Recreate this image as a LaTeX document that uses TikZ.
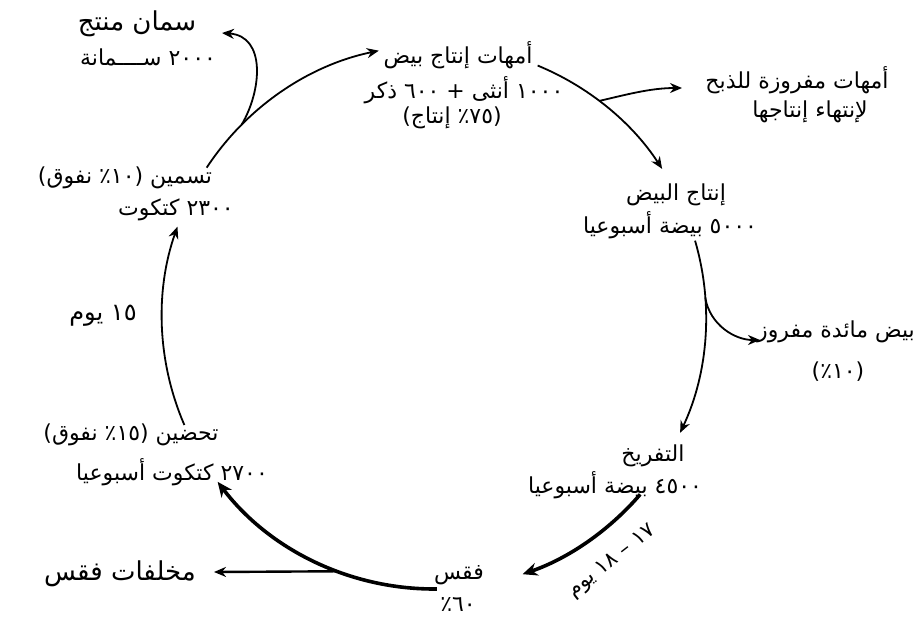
\documentclass[tikz,border=0pt]{standalone}
\usepackage{fontspec}
\newfontfamily\arabicfont[Script=Arabic]{DejaVu Sans}
\TeXXeTstate=1
\usetikzlibrary{arrows.meta}
\newcommand\artx[1]{\beginR #1\endR}
\begin{document}
\begin{tikzpicture}[x=1pt,y=-1pt,
  txt/.style={font=\arabicfont\fontsize{22}{26}\selectfont, inner sep=0pt, anchor=center},
  bigtxt/.style={txt, font=\arabicfont\fontsize{26}{30}\selectfont},
  flow/.style={line width=1.8pt, -{Stealth[length=12pt,width=10pt]}},
  boldflow/.style={line width=3.6pt, -{Stealth[length=15pt,width=13pt]}}]
\useasboundingbox[fill=white] (0,0) rectangle (918,625);

% text nodes
\node[txt] (top1) at (458,55) {\artx{أمهات إنتاج بيض}};
\node[txt] (top2) at (464,90) {\artx{١٠٠٠ أنثى + ٦٠٠ ذكر}};
\node[txt] (top3) at (452,118) {\artx{(٧٥٪ إنتاج)}};
\node[txt] (cull1) at (797,80) {\artx{أمهات مفروزة للذبح}};
\node[txt] (cull2) at (810,112) {\artx{لإنتهاء إنتاجها}};
\node[txt] (egg1) at (676,195) {\artx{إنتاج البيض}};
\node[txt] (egg2) at (670,225) {\artx{٥٠٠٠ بيضة أسبوعيا}};
\node[txt] (tab1) at (836,332) {\artx{بيض مائدة مفروز}};
\node[txt] (tab2) at (838,372) {\artx{(١٠٪)}};
\node[txt] (hat1) at (653,456) {\artx{التفريخ}};
\node[txt] (hat2) at (615,485) {\artx{٤٥٠٠ بيضة أسبوعيا}};
\node[txt, font=\arabicfont\fontsize{21}{24}\selectfont, rotate=38] (days) at (612,562) {\artx{١٧ – ١٨ يوم}};
\node[txt] (fq1) at (459,575) {\artx{فقس}};
\node[txt] (fq2) at (458,605) {\artx{٦٠٪}};
\node[bigtxt] (waste) at (120,574) {\artx{مخلفات فقس}};
\node[txt] (br1) at (131,435) {\artx{تحضين (١٥٪ نفوق)}};
\node[txt] (br2) at (172,472) {\artx{٢٧٠٠ كتكوت أسبوعيا}};
\node[txt, font=\arabicfont\fontsize{24}{28}\selectfont] (d15) at (103,316) {\artx{١٥ يوم}};
\node[txt] (ts1) at (125,178) {\artx{تسمين (١٠٪ نفوق)}};
\node[txt] (ts2) at (176,210) {\artx{٢٣٠٠ كتكوت}};
\node[bigtxt] (q1) at (137,24) {\artx{سمان منتج}};
\node[txt] (q2) at (148,57) {\artx{٢٠٠٠ ســــمانة}};

% cycle
\coordinate (C) at (434,317);
\path (C) ++(-67.6:272) coordinate (tR);
\path (C) ++(-52.6:272) coordinate (brc);
\path (C) ++(-16.3:272) coordinate (eS);
\path (C) ++(-4:272) coordinate (tb);
\path (C) ++(40.7:272) coordinate (hS);
\path (C) ++(89.4:272) coordinate (fS);
\path (C) ++(110.8:272) coordinate (w0);
\path (C) ++(156.6:272) coordinate (bS);
\path (C) ++(213.3:272) coordinate (sS);
\path (C) ++(225:272) coordinate (qb);
\coordinate (cullin) at (682,88);
\coordinate (tabin) at (760,340);
\coordinate (wastein) at (214,572);
\coordinate (quailin) at (222,33);

\draw[flow] (tR) arc[start angle=-67.6, end angle=-33, radius=272];
\draw[flow] (brc) .. controls (625,95) and (650,88) .. (cullin);
\draw[flow] (eS) arc[start angle=-16.3, end angle=25.2, radius=272];
\draw[flow] (tb) .. controls (710,325) and (735,340) .. (tabin);
\draw[boldflow] (hS) arc[start angle=40.7, end angle=71, radius=272];
\draw[boldflow] (fS) arc[start angle=89.4, end angle=142.7, radius=272];
\draw[flow, line width=2.4pt] (w0) -- (wastein);
\draw[flow] (bS) arc[start angle=156.6, end angle=199.4, radius=272];
\draw[flow] (sS) arc[start angle=213.3, end angle=258.3, radius=272];
\draw[flow] (qb) .. controls (262,90) and (266,36) .. (quailin);
\end{tikzpicture}
\end{document}
